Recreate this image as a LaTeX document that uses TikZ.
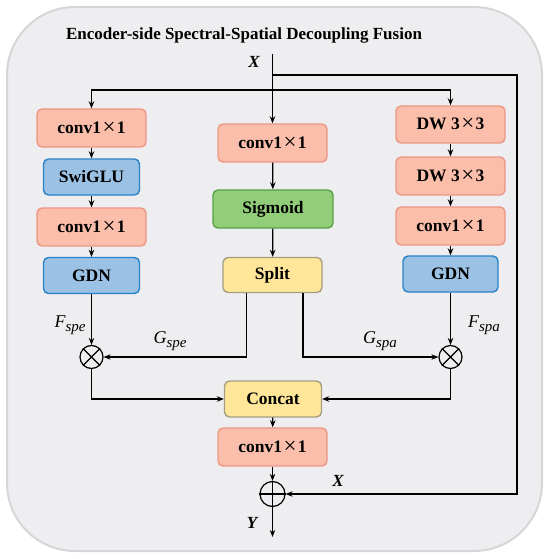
\documentclass[tikz,border=0pt]{standalone}
\usepackage{fontspec}
\setmainfont{Liberation Serif}
\usetikzlibrary{arrows.meta}
\definecolor{bgfill}{RGB}{238,238,241}
\definecolor{bgdraw}{RGB}{214,214,216}
\definecolor{salfill}{RGB}{250,190,170}
\definecolor{saldraw}{RGB}{236,150,135}
\definecolor{blufill}{RGB}{155,194,228}
\definecolor{bludraw}{RGB}{40,130,200}
\definecolor{grnfill}{RGB}{146,206,122}
\definecolor{grndraw}{RGB}{88,160,70}
\definecolor{yelfill}{RGB}{255,230,153}
\definecolor{yeldraw}{RGB}{165,158,130}
\tikzset{
  box/.style={rounded corners=5pt, line width=1.4pt, inner sep=0pt, minimum width=109pt, minimum height=38pt, font=\fontsize{17.5}{20}\selectfont\bfseries},
  salbox/.style={box, fill=salfill, draw=saldraw},
  blubox/.style={box, fill=blufill, draw=bludraw, minimum width=96pt, minimum height=36pt},
  grnbox/.style={box, fill=grnfill, draw=grndraw, minimum width=120pt},
  yelbox/.style={box, fill=yelfill, draw=yeldraw, minimum width=99pt, minimum height=35pt},
  conn/.style={line width=1.2pt, -{Stealth[length=7pt,width=5.5pt]}},
  wire/.style={line width=1.2pt},
  opnode/.style={circle, draw, line width=1.2pt, minimum size=23pt, inner sep=0pt},
  lbl/.style={font=\fontsize{18}{20}\selectfont\itshape},
}
\newcommand{\cx}{\hspace{1.5pt}\raisebox{-1pt}{\fontsize{23}{20}\selectfont\mdseries×}\hspace{1.5pt}}
\begin{document}
\begin{tikzpicture}[x=1pt,y=-1pt]
\useasboundingbox (0,0) rectangle (550,559);
\draw[fill=bgfill, draw=bgdraw, line width=2pt, rounded corners=68pt] (7,7) rectangle (542,551);
\node[font=\fontsize{17}{20}\selectfont\bfseries] (title) at (244,35) {Encoder-side Spectral-Spatial Decoupling Fusion};

% left column
\node[salbox] (L1) at (91.5,128) {conv1\cx1};
\node[blubox] (L2) at (91.5,177) {SwiGLU};
\node[salbox] (L3) at (91.5,227) {conv1\cx1};
\node[blubox] (L4) at (91.5,275.5) {GDN};
% center column
\node[salbox] (C1) at (272.5,143) {conv1\cx1};
\node[grnbox] (C2) at (273,209) {Sigmoid};
\node[yelbox] (C3) at (272.5,275) {Split};
% right column
\node[salbox, minimum height=37pt] (R1) at (450.5,124.5) {DW 3\cx3};
\node[salbox] (R2) at (450.5,176) {DW 3\cx3};
\node[salbox] (R3) at (450.5,226) {conv1\cx1};
\node[blubox, minimum width=95pt] (R4) at (450.5,274) {GDN};
% bottom
\node[yelbox, minimum width=97pt, minimum height=36pt] (CC) at (273,399) {Concat};
\node[salbox] (CO) at (272.5,447) {conv1\cx1};

\node[opnode] (mL) at (91.5,357) {};
\node[opnode] (mR) at (450.5,357) {};
\node[opnode, minimum size=25pt] (ad) at (272.5,494) {};
\draw[line width=1.2pt] (mL.north west) -- (mL.south east) (mL.north east) -- (mL.south west);
\draw[line width=1.2pt] (mR.north west) -- (mR.south east) (mR.north east) -- (mR.south west);
\draw[line width=1.2pt] (ad.north) -- (ad.south) (ad.west) -- (ad.east);

% input
\coordinate (in) at (272.5,54);
\coordinate (br) at (272.5,90);
\coordinate (sk) at (272.5,75);
\coordinate (out) at (272.5,537);
\node[font=\fontsize{17}{20}\selectfont\bfseries\itshape] (Xin) at (254,62) {X};
\draw[conn] (in) -- (C1.north);
\draw[conn] (br) -| (L1.north);
\draw[conn] (br) -| (R1.north);
\draw[conn] (sk) -| (517,494) -- (ad.east);
\node[font=\fontsize{17}{20}\selectfont\bfseries\itshape] (Xsk) at (338,481) {X};

% column arrows
\draw[conn] (L1) -- (L2);
\draw[conn] (L2) -- (L3);
\draw[conn] (L3) -- (L4);
\draw[conn] (C1) -- (C2);
\draw[conn] (C2) -- (C3);
\draw[conn] (R1) -- (R2);
\draw[conn] (R2) -- (R3);
\draw[conn] (R3) -- (R4);
\draw[conn] (L4) -- (mL);
\draw[conn] (R4) -- (mR);
\draw[conn] (C3.south -| 246.5,0) |- (mL.east);
\draw[conn] (C3.south -| 303,0) |- (mR.west);
\draw[conn] (mL.south) |- (CC.west);
\draw[conn] (mR.south) |- (CC.east);
\draw[conn] (CC) -- (CO);
\draw[conn] (CO) -- (ad);
\draw[conn] (ad) -- (out);

\node[lbl] (Fspe) at (70,325) {F\raisebox{-4pt}{\fontsize{15}{15}\selectfont spe}};
\node[lbl] (Gspe) at (170,341) {G\raisebox{-4pt}{\fontsize{15}{15}\selectfont spe}};
\node[lbl] (Gspa) at (380,341) {G\raisebox{-4pt}{\fontsize{15}{15}\selectfont spa}};
\node[lbl] (Fspa) at (484,325) {F\raisebox{-4pt}{\fontsize{15}{15}\selectfont spa}};
\node[font=\fontsize{17}{20}\selectfont\bfseries\itshape] (Yout) at (252,523) {Y};
\end{tikzpicture}
\end{document}
